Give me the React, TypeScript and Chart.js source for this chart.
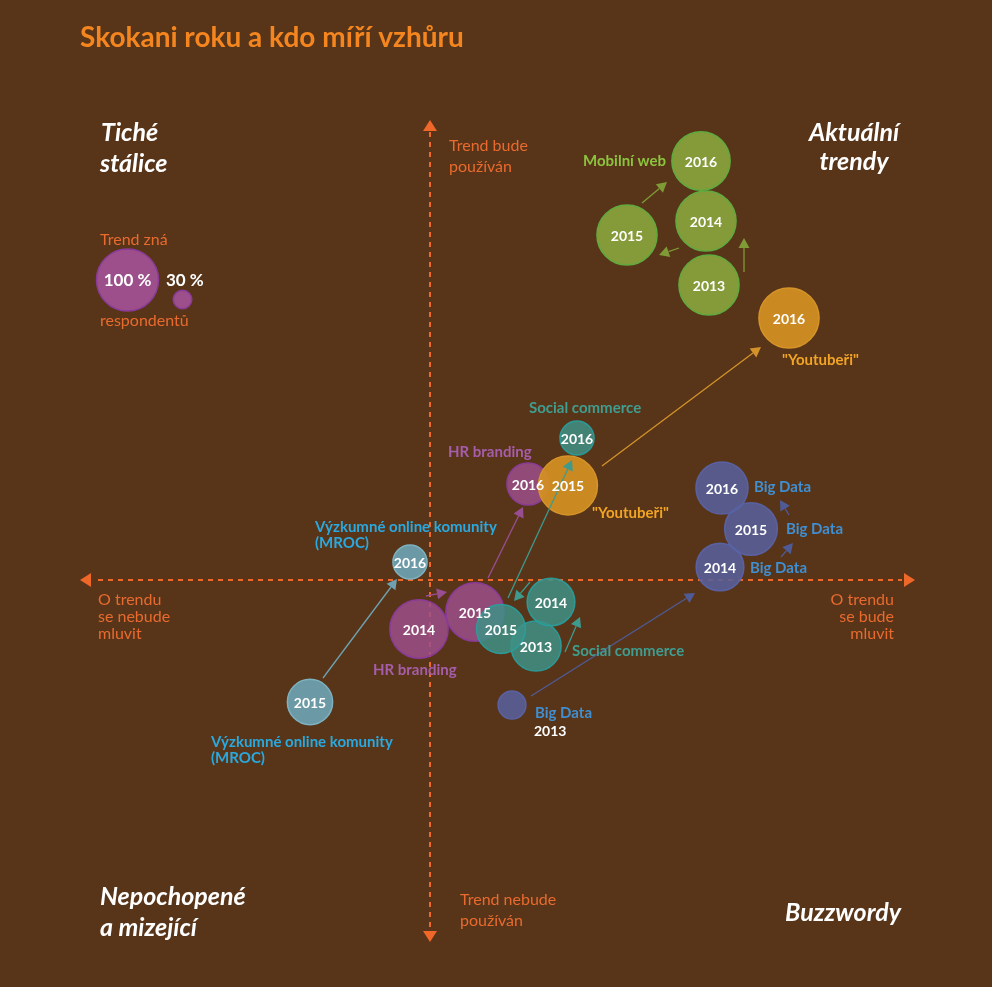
import { useEffect, useRef } from 'react';
import { Chart, registerables } from 'chart.js';

Chart.register(...registerables);

// ---------- DATA (position map: x = talk about trend, y = trend will be used; size = % respondents aware) ----------
const mobilYears = ['2013', '2014', '2015', '2016'];
const mobilX = [27.9, 27.6, 19.7, 27.1];
const mobilY = [29.5, 35.9, 34.5, 41.9];
const mobilPct = [97, 97, 97, 94];

const youtubeYears = ['2015', '2016'];
const youtubeX = [13.8, 35.9];
const youtubeY = [9.45, 26.2];
const youtubePct = [95, 97];

const socialYears = ['2013', '2014', '2015', '2016'];
const socialX = [10.6, 12.1, 7.1, 14.7];
const socialY = [-6.6, -2.2, -4.9, 14.2];
const socialPct = [81, 77, 79, 55];

const mrocYears = ['2015', '2016'];
const mrocX = [-12.0, -2.0];
const mrocY = [-12.2, 1.8];
const mrocPct = [73, 55];

const bigDataYears = ['', '2014', '2015', '2016'];
const bigDataX = [8.2, 29.0, 32.1, 29.2];
const bigDataY = [-12.5, 1.3, 5.1, 9.2];
const bigDataPct = [45, 77, 85, 84];

const hrYears = ['2014', '2015', '2016'];
const hrX = [-1.1, 4.5, 9.8];
const hrY = [-4.9, -3.2, 9.6];
const hrPct = [94, 94, 68];

const legendLabels = ['100 %', ''];
const legendX = [-30.25, -24.75];
const legendY = [30.0, 28.05];
const legendPct = [100, 30];

// ---------- LOOK ----------
const BG = '#583519';
const AXIS = '#f0672a';
const AXIS_TEXT = '#e96a2e';
const FONT = 'Lato';
const R_PER_PCT = 0.31;
const X_MIN = -43, X_MAX = 56.2, Y_MIN = -40.7, Y_MAX = 58.0;

const series = [
  { name: 'youtube', years: youtubeYears, xs: youtubeX, ys: youtubeY, pct: youtubePct, fill: 'rgba(212,144,34,0.92)', border: 'rgba(214,148,40,1)', ls: 'year' },
  { name: 'mobil', years: mobilYears, xs: mobilX, ys: mobilY, pct: mobilPct, fill: 'rgba(136,160,59,0.95)', border: 'rgba(96,170,62,1)', ls: 'year' },
  { name: 'social', years: socialYears, xs: socialX, ys: socialY, pct: socialPct, fill: 'rgba(62,145,134,0.85)', border: 'rgba(40,160,158,0.9)', ls: 'year' },
  { name: 'mroc', years: mrocYears, xs: mrocX, ys: mrocY, pct: mrocPct, fill: 'rgba(110,162,178,0.92)', border: 'rgba(125,178,192,1)', ls: 'year' },
  { name: 'bigdata', years: bigDataYears, xs: bigDataX, ys: bigDataY, pct: bigDataPct, fill: 'rgba(86,96,154,0.88)', border: 'rgba(90,100,170,0.9)', ls: 'year' },
  { name: 'hr', years: hrYears, xs: hrX, ys: hrY, pct: hrPct, fill: 'rgba(156,79,138,0.85)', border: 'rgba(139,59,151,1)', ls: 'year' },
  { name: 'legend', years: legendLabels, xs: legendX, ys: legendY, pct: legendPct, fill: 'rgba(156,79,138,1)', border: 'rgba(139,59,151,1)', ls: 'legend' },
];

// arrows between years (data units): [x1, y1, x2, y2, colour]
const arrows: [number, number, number, number, string][] = [
  [21.2, 37.7, 23.7, 39.8, '#7f9b36'],
  [24.9, 33.2, 22.9, 32.5, '#7f9b36'],
  [31.4, 30.8, 31.4, 34.2, '#7f9b36'],
  [17.2, 11.4, 33.1, 23.3, '#d3922a'],
  [7.8, -1.8, 14.2, 12.0, '#3f9a8e'],
  [10.0, -0.2, 8.4, -2.1, '#3f9a8e'],
  [13.5, -7.2, 15.0, -3.7, '#3f9a8e'],
  [-0.4, -1.6, 1.7, -1.2, '#9a4e92'],
  [5.8, 0.2, 9.3, 7.3, '#9a4e92'],
  [-10.7, -9.8, -3.3, 0.1, '#6ea2b2'],
  [10.1, -11.6, 26.5, -1.3, '#4f5b96'],
  [35.1, 2.3, 36.3, 3.7, '#4f5b96'],
  [35.9, 6.5, 35.0, 8.0, '#4f5b96'],
];

const styles: Record<string, { font: string; squeeze: number }> = {
  title: { font: `bold 28px ${FONT}`, squeeze: 1 },
  quad: { font: `italic bold 25px ${FONT}`, squeeze: 1 },
  axis: { font: `16px ${FONT}`, squeeze: 1 },
  series: { font: `bold 15px ${FONT}`, squeeze: 1 },
  year: { font: `bold 14px ${FONT}`, squeeze: 1 },
  legend: { font: `bold 17px ${FONT}`, squeeze: 1 },
};

type Label = { t: string; x: number; y: number; s: string; c: string; a?: CanvasTextAlign };
const C_MOB = '#8cc43f', C_YT = '#f2a424', C_SOC = '#3f9e90', C_HR = '#a65daa', C_MROC = '#2aa9e0', C_BD = '#3f8fd2', W = '#ffffff';
const labels: Label[] = [
  { t: 'Skokani roku a kdo míří vzhůru', x: -35.0, y: 54.2, s: 'title', c: '#f5861f' },
  { t: 'Tiché', x: -32.9, y: 44.7, s: 'quad', c: W },
  { t: 'stálice', x: -33.0, y: 41.6, s: 'quad', c: W },
  { t: 'Aktuální', x: 42.4, y: 44.7, s: 'quad', c: W, a: 'center' },
  { t: 'trendy', x: 42.4, y: 41.8, s: 'quad', c: W, a: 'center' },
  { t: 'Nepochopené', x: -33.0, y: -31.7, s: 'quad', c: W },
  { t: 'a mizející', x: -33.0, y: -34.8, s: 'quad', c: W },
  { t: 'Buzzwordy', x: 47.1, y: -33.3, s: 'quad', c: W, a: 'right' },
  { t: 'Trend bude', x: 1.9, y: 43.4, s: 'axis', c: AXIS_TEXT },
  { t: 'používán', x: 1.9, y: 41.3, s: 'axis', c: AXIS_TEXT },
  { t: 'Trend nebude', x: 3.0, y: -32.0, s: 'axis', c: AXIS_TEXT },
  { t: 'používán', x: 3.0, y: -34.1, s: 'axis', c: AXIS_TEXT },
  { t: 'O trendu', x: -33.2, y: -2.0, s: 'axis', c: AXIS_TEXT },
  { t: 'se nebude', x: -33.2, y: -3.7, s: 'axis', c: AXIS_TEXT },
  { t: 'mluvit', x: -33.2, y: -5.4, s: 'axis', c: AXIS_TEXT },
  { t: 'O trendu', x: 46.4, y: -2.0, s: 'axis', c: AXIS_TEXT, a: 'right' },
  { t: 'se bude', x: 46.4, y: -3.7, s: 'axis', c: AXIS_TEXT, a: 'right' },
  { t: 'mluvit', x: 46.4, y: -5.4, s: 'axis', c: AXIS_TEXT, a: 'right' },
  { t: 'Trend zná', x: -33.0, y: 34.0, s: 'axis', c: AXIS_TEXT },
  { t: 'respondentů', x: -33.0, y: 25.9, s: 'axis', c: AXIS_TEXT },
  { t: '30 %', x: -26.4, y: 29.9, s: 'legend', c: W },
  { t: 'Mobilní web', x: 23.6, y: 41.9, s: 'series', c: C_MOB, a: 'right' },
  { t: '"Youtubeři"', x: 35.2, y: 22.0, s: 'series', c: C_YT },
  { t: '"Youtubeři"', x: 16.2, y: 6.7, s: 'series', c: C_YT },
  { t: 'Social commerce', x: 9.9, y: 17.2, s: 'series', c: C_SOC },
  { t: 'Social commerce', x: 14.2, y: -7.1, s: 'series', c: C_SOC },
  { t: 'HR branding', x: 1.8, y: 12.8, s: 'series', c: C_HR },
  { t: 'HR branding', x: -5.7, y: -9.0, s: 'series', c: C_HR },
  { t: 'Výzkumné online komunity', x: -11.5, y: 5.3, s: 'series', c: C_MROC },
  { t: '(MROC)', x: -11.5, y: 3.7, s: 'series', c: C_MROC },
  { t: 'Výzkumné online komunity', x: -21.9, y: -16.2, s: 'series', c: C_MROC },
  { t: '(MROC)', x: -21.9, y: -17.8, s: 'series', c: C_MROC },
  { t: 'Big Data', x: 32.4, y: 9.3, s: 'series', c: C_BD },
  { t: 'Big Data', x: 35.6, y: 5.1, s: 'series', c: C_BD },
  { t: 'Big Data', x: 32.0, y: 1.2, s: 'series', c: C_BD },
  { t: 'Big Data', x: 10.5, y: -13.3, s: 'series', c: C_BD },
  { t: '2013', x: 10.4, y: -15.1, s: 'year', c: W },
];

function drawText(ctx: CanvasRenderingContext2D, t: string, px: number, py: number, style: string, color: string, align: CanvasTextAlign = 'left') {
  const st = styles[style];
  ctx.font = st.font;
  ctx.fillStyle = color;
  ctx.textAlign = align;
  ctx.textBaseline = 'middle';
  const w = ctx.measureText(t).width;
  ctx.fillText(t, px, py, w * st.squeeze);
}

const quadPlugin = {
  id: 'quadMap',
  beforeDraw(chart: any) {
    const ctx = chart.ctx as CanvasRenderingContext2D;
    ctx.save();
    ctx.fillStyle = BG;
    ctx.fillRect(0, 0, chart.width, chart.height);
    ctx.restore();
  },
  beforeDatasetsDraw(chart: any) {
    const ctx = chart.ctx as CanvasRenderingContext2D;
    const xs = chart.scales.x, ys = chart.scales.y;
    const x0 = xs.getPixelForValue(0), y0 = ys.getPixelForValue(0);
    ctx.save();
    ctx.strokeStyle = AXIS;
    ctx.fillStyle = AXIS;
    ctx.lineWidth = 2;
    ctx.setLineDash([5, 5]);
    ctx.beginPath();
    ctx.moveTo(xs.getPixelForValue(-33.2), y0);
    ctx.lineTo(xs.getPixelForValue(47.2), y0);
    ctx.moveTo(x0, ys.getPixelForValue(44.8));
    ctx.lineTo(x0, ys.getPixelForValue(-34.8));
    ctx.stroke();
    ctx.setLineDash([]);
    const tri = (a: [number, number], b: [number, number], c: [number, number]) => {
      ctx.beginPath(); ctx.moveTo(a[0], a[1]); ctx.lineTo(b[0], b[1]); ctx.lineTo(c[0], c[1]); ctx.closePath(); ctx.fill();
    };
    const L = xs.getPixelForValue(-35.0), R = xs.getPixelForValue(48.5);
    const T = ys.getPixelForValue(46.0), B = ys.getPixelForValue(-36.2);
    tri([L, y0], [L + 11, y0 - 7], [L + 11, y0 + 7]);
    tri([R, y0], [R - 11, y0 - 7], [R - 11, y0 + 7]);
    tri([x0, T], [x0 - 7, T + 11], [x0 + 7, T + 11]);
    tri([x0, B], [x0 - 7, B - 11], [x0 + 7, B - 11]);
    ctx.restore();
  },
  afterDatasetsDraw(chart: any) {
    const ctx = chart.ctx as CanvasRenderingContext2D;
    const xs = chart.scales.x, ys = chart.scales.y;
    ctx.save();
    // arrows
    for (const [x1, y1, x2, y2, col] of arrows) {
      const a = [xs.getPixelForValue(x1), ys.getPixelForValue(y1)];
      const b = [xs.getPixelForValue(x2), ys.getPixelForValue(y2)];
      const ang = Math.atan2(b[1] - a[1], b[0] - a[0]);
      const hl = 10, hw = 5.5;
      ctx.strokeStyle = col; ctx.fillStyle = col; ctx.lineWidth = 1.3;
      ctx.beginPath();
      ctx.moveTo(a[0], a[1]);
      ctx.lineTo(b[0] - Math.cos(ang) * hl, b[1] - Math.sin(ang) * hl);
      ctx.stroke();
      ctx.beginPath();
      ctx.moveTo(b[0], b[1]);
      ctx.lineTo(b[0] - Math.cos(ang) * hl - Math.sin(ang) * hw, b[1] - Math.sin(ang) * hl + Math.cos(ang) * hw);
      ctx.lineTo(b[0] - Math.cos(ang) * hl + Math.sin(ang) * hw, b[1] - Math.sin(ang) * hl - Math.cos(ang) * hw);
      ctx.closePath();
      ctx.fill();
    }
    // year labels inside bubbles
    chart.data.datasets.forEach((ds: any, di: number) => {
      const meta = chart.getDatasetMeta(di);
      meta.data.forEach((el: any, i: number) => {
        const t = ds.yearLabels[i];
        if (!t) return;
        drawText(ctx, t, el.x, el.y + 1, ds.labelStyle, W, 'center');
      });
    });
    // annotation labels
    for (const l of labels) {
      drawText(ctx, l.t, xs.getPixelForValue(l.x), ys.getPixelForValue(l.y), l.s, l.c, l.a || 'left');
    }
    ctx.restore();
  },
};

export default function App() {
  const ref = useRef<HTMLCanvasElement | null>(null);
  useEffect(() => {
    document.body.style.margin = '0';
    document.body.style.background = BG;
    if (!ref.current) return;
    const chart = new Chart(ref.current, {
      type: 'bubble',
      data: {
        datasets: series.map((s) => ({
          label: s.name,
          yearLabels: s.years,
          labelStyle: s.ls,
          data: s.xs.map((x, i) => ({ x, y: s.ys[i], r: s.pct[i] * R_PER_PCT })),
          backgroundColor: s.fill,
          borderColor: s.border,
          borderWidth: 1.5,
          hoverRadius: 0,
        })) as any,
      },
      options: {
        responsive: false,
        animation: false,
        devicePixelRatio: 1,
        layout: { padding: 0, autoPadding: false },
        events: [],
        plugins: { legend: { display: false }, tooltip: { enabled: false }, title: { display: false } },
        scales: {
          x: { type: 'linear', min: X_MIN, max: X_MAX, display: false },
          y: { type: 'linear', min: Y_MIN, max: Y_MAX, display: false },
        },
      },
      plugins: [quadPlugin],
    });
    return () => chart.destroy();
  }, []);
  return (
    <div style={{ width: 992, height: 987, background: BG }}>
      <canvas ref={ref} width={992} height={987} style={{ display: 'block' }} />
    </div>
  );
}
